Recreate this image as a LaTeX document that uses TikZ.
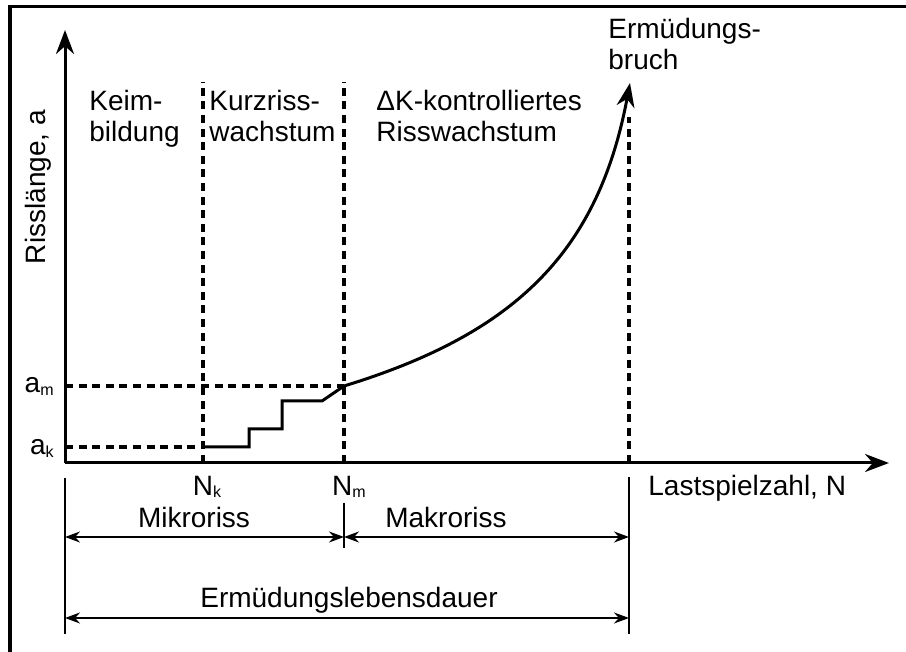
\documentclass[tikz,border=0pt]{standalone}
\usepackage{fontspec}
\setmainfont{Liberation Sans}
\usetikzlibrary{arrows.meta,positioning}
\newcommand{\idx}[1]{\raisebox{-1.5pt}{\fontsize{8}{8}\selectfont #1}}
\tikzset{
  spitze/.style = {-{Stealth[length=12pt,width=9pt]}},
  achse/.style = {line width=1.5pt, spitze},
  hilfslinie/.style = {line width=1.6pt, dash pattern=on 4pt off 2.8pt},
  kurve/.style = {line width=1.5pt, line join=miter},
  masslinie/.style = {line width=0.9pt,
    {Stealth[length=7.5pt,width=5.5pt]}-{Stealth[length=7.5pt,width=5.5pt]}},
  grenze/.style = {line width=0.9pt},
  txt/.style = {inner sep=0pt, align=left, font=\fontsize{14}{15.5}\selectfont}
}
\begin{document}
\begin{tikzpicture}[x=0.5pt,y=-0.5pt]
  \useasboundingbox (0,0) rectangle (906,652);
  % rahmen
  \draw[line width=1.6pt] (10,652) -- (10,6.5) -- (906,6.5);
  % achsen
  \coordinate (O) at (65,463);
  \coordinate (ytip) at (65,30);
  \coordinate (xtip) at (889,463);
  \coordinate (Nk) at (203,463);
  \coordinate (Nm) at (344,463);
  \coordinate (Nb) at (629,463);
  \coordinate (ak) at (65,447);
  \coordinate (am) at (65,386);
  \coordinate (s0) at (205,447);
  \coordinate (m0) at (344,386);
  \coordinate (tip) at (630,83);
  % hilfslinien
  \draw[hilfslinie] (ak) -- (s0);
  \draw[hilfslinie] (am) -- (m0);
  \draw[hilfslinie] (Nk) -- (203,82);
  \draw[hilfslinie] (Nm) -- (344,82);
  \draw[hilfslinie] (Nb) -- (629,117);
  \draw[achse] (O) -- (ytip);
  \draw[achse] (O) -- (xtip);
  % risswachstum
  \draw[kurve] (s0) -- (249,447) -- (249,429) -- (282,429) -- (282,401)
    -- (322,401) -- (m0);
  \draw[kurve, spitze] (m0) .. controls (514,334) and (598,253) .. (tip);
  % beschriftungen
  \node[txt, rotate=90, anchor=base] (ya) at (46,187) {Risslänge, a};
  \node[txt, anchor=base east] (lam) at (54,393) {a\idx{m}};
  \node[txt, anchor=base east] (lak) at (54,455) {a\idx{k}};
  \node[txt, anchor=base west] (keim) at (89,142) {Keim-\\bildung};
  \node[txt, anchor=base west] (kurz) at (209,142) {Kurzriss-\\wachstum};
  \node[txt, anchor=base west] (dk) at (376,142) {ΔK-kontrolliertes\\Risswachstum};
  \node[txt, anchor=base west] (bruch) at (608,70) {Ermüdungs-\\bruch};
  \node[txt, anchor=base] (lNk) at (207,495) {N\idx{k}};
  \node[txt, anchor=base] (lNm) at (349,495) {N\idx{m}};
  \node[txt, anchor=base west] (xa) at (648,495) {Lastspielzahl, N};
  % lebensdauer
  \coordinate (g0o) at (65,478);
  \coordinate (g0u) at (65,634);
  \coordinate (g1o) at (344,503);
  \coordinate (g1u) at (344,548);
  \coordinate (g2o) at (629,477);
  \coordinate (g2u) at (629,634);
  \draw[grenze] (g0o) -- (g0u);
  \draw[grenze] (g1o) -- (g1u);
  \draw[grenze] (g2o) -- (g2u);
  \draw[masslinie] (65,537) -- (344,537);
  \draw[masslinie] (344,537) -- (629,537);
  \draw[masslinie] (65,618) -- (629,618);
  \node[txt, anchor=base] (mikro) at (194,528) {Mikroriss};
  \node[txt, anchor=base] (makro) at (446,528) {Makroriss};
  \node[txt, anchor=base] (leben) at (349,607) {Ermüdungslebensdauer};
\end{tikzpicture}
\end{document}
